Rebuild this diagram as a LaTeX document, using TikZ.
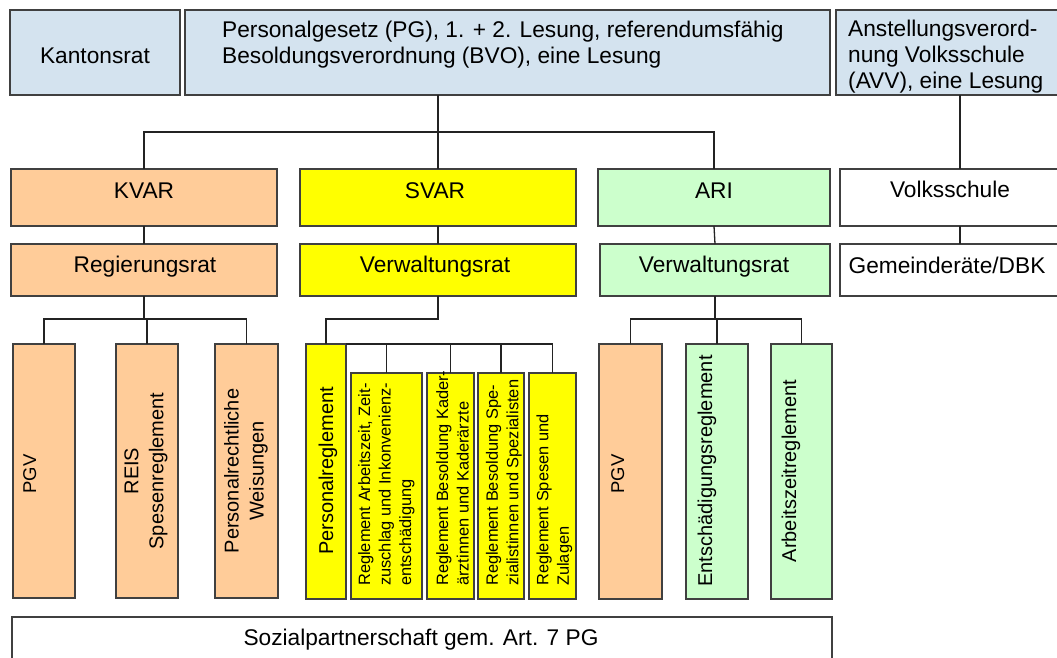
\documentclass[tikz,border=0pt]{standalone}
\usepackage{fontspec}
\setmainfont{Liberation Sans}
\definecolor{blueF}{RGB}{212,227,239}
\definecolor{peachF}{RGB}{255,204,153}
\definecolor{yellowF}{RGB}{255,255,0}
\definecolor{greenF}{RGB}{204,255,204}
\definecolor{boxline}{RGB}{64,64,64}
\definecolor{linkc}{RGB}{35,35,35}
\newcommand\mybox[6]{\node[box,fill=#6,minimum width={#4-#2},minimum height={#5-#3}] (#1) at ({(#2+#4)/2},{(#3+#5)/2}) {};}
\begin{document}
\begin{tikzpicture}[x=1pt,y=-1pt,
  box/.style={draw=boxline, line width=1.3pt, inner sep=0pt, outer sep=0pt},
  lnk/.style={draw=linkc, line width=1.3pt},
  big/.style={font=\fontsize{22.7}{26}\selectfont, inner sep=0pt, text=black},
  mid/.style={font=\fontsize{20}{25}\selectfont, inner sep=0pt, text=black},
  pgvt/.style={font=\fontsize{18.5}{22}\selectfont, inner sep=0pt, text=black},
  small/.style={font=\fontsize{16.4}{20.5}\selectfont, inner sep=0pt, text=black}]
\useasboundingbox (0,0) rectangle (1057,657);
\clip (0,0) rectangle (1057,657);
\fill[white] (0,0) rectangle (1057,657);
% boxes
\mybox{kr}{10}{10}{180}{95}{blueF}
\mybox{pg}{185}{10}{830}{95}{blueF}
\mybox{avv}{836}{10}{1084}{95}{blueF}
\mybox{kvar}{11}{169}{277}{226}{peachF}
\mybox{svar}{300}{169}{576}{226}{yellowF}
\mybox{ari}{598}{169}{830}{226}{greenF}
\mybox{vs}{840}{169}{1080}{226}{white}
\mybox{rr}{11}{244}{277}{296}{peachF}
\mybox{vw1}{300}{244}{576}{296}{yellowF}
\mybox{vw2}{600}{244}{830}{296}{greenF}
\mybox{gd}{840}{244}{1080}{296}{white}
\mybox{pgv1}{13}{344}{75}{598}{peachF}
\mybox{reis}{116}{344}{178}{598}{peachF}
\mybox{pw}{215}{344}{278}{598}{peachF}
\mybox{pr}{306}{344}{346}{599}{yellowF}
\mybox{az}{351}{373}{422}{599}{yellowF}
\mybox{ka}{427}{373}{474}{599}{yellowF}
\mybox{spz}{478}{373}{524}{599}{yellowF}
\mybox{spe}{529}{373}{576}{599}{yellowF}
\mybox{pgv2}{599}{344}{662}{599}{peachF}
\mybox{ent}{686}{344}{748}{599}{greenF}
\mybox{arb}{771}{344}{832}{599}{greenF}
\mybox{sp}{12}{617}{832}{690}{white}
% texts
\node[big,anchor=base] (krt) at (95,63) {Kantonsrat};
\node[big,anchor=base west] (pgt1) at (222,37) {Personalgesetz (PG), 1. + 2. Lesung, referendumsfähig};
\node[big,anchor=base west] (pgt2) at (222,63) {Besoldungsverordnung (BVO), eine Lesung};
\node[big,anchor=base west] (avvt1) at (848,36) {Anstellungsverord-};
\node[big,anchor=base west] (avvt2) at (848,62) {nung Volksschule};
\node[big,anchor=base west] (avvt3) at (848,88) {(AVV), eine Lesung};
\node[big,anchor=base] (kvart) at (144,198) {KVAR};
\node[big,anchor=base] (svart) at (435,198) {SVAR};
\node[big,anchor=base] (arit) at (714,198) {ARI};
\node[big,anchor=base] (vst) at (950,197) {Volksschule};
\node[big,anchor=base] (rrt) at (145,272) {Regierungsrat};
\node[big,anchor=base] (vw1t) at (435,272) {Verwaltungsrat};
\node[big,anchor=base] (vw2t) at (714,272) {Verwaltungsrat};
\node[big,anchor=base] (gdt) at (947,273) {Gemeinderäte/DBK};
\node[big,anchor=base] (spt) at (421,645) {Sozialpartnerschaft gem. Art. 7 PG};
% vertical texts
\node[pgvt,rotate=90,anchor=base] (pgv1t) at (36,474) {PGV};
\node[mid,rotate=90,align=center] (reist) at (146,471) {REIS\\Spesenreglement};
\node[mid,rotate=90,align=center] (pwt) at (246,471) {Personalrechtliche\\Weisungen};
\node[mid,rotate=90,anchor=base] (prt) at (333,471) {Personalreglement};
\node[small,rotate=90,align=left,anchor=west] (azt) at ([yshift=13pt]az.south) {Reglement Arbeitszeit, Zeit-\\zuschlag und Inkonvenienz-\\entschädigung};
\node[small,rotate=90,align=left,anchor=west] (kat) at ([yshift=13pt,xshift=2pt]ka.south) {Reglement Besoldung Kader-\\ärztinnen und Kaderärzte};
\node[small,rotate=90,align=left,anchor=west] (spzt) at ([yshift=13pt,xshift=3pt]spz.south) {Reglement Besoldung Spe-\\zialistinnen und Spezialisten};
\node[small,rotate=90,align=left,anchor=west] (spet) at ([yshift=13pt,xshift=2pt]spe.south) {Reglement Spesen und\\Zulagen};
\node[pgvt,rotate=90,anchor=base] (pgv2t) at (624,474) {PGV};
\node[mid,rotate=90,anchor=base] (entt) at (712,471) {Entschädigungsreglement};
\node[mid,rotate=90,anchor=base] (arbt) at (796,471) {Arbeitszeitreglement};
% connectors
\coordinate (b1) at (0,132);
\coordinate (b2) at (0,319);
\draw[lnk] (svar.north |- pg.south) -- (svar.north);
\draw[lnk] (kvar.north) -- (kvar.north |- b1) -- (ari.north |- b1) -- (ari.north);
\draw[lnk] (avv.south) -- (vs.north);
\draw[lnk] (kvar.south) -- (rr.north);
\draw[lnk] (svar.south) -- (vw1.north);
\draw[lnk] (ari.south) -- (vw2.north);
\draw[lnk] (vs.south) -- (gd.north);
\draw[lnk] (rr.south) -- (rr.south |- b2);
\draw[lnk] (pgv1.north) -- (pgv1.north |- b2) -- (pw.north |- b2) -- (pw.north);
\draw[lnk] (reis.north |- b2) -- (reis.north);
\draw[lnk] (vw1.south) -- (vw1.south |- b2) -- (pr.north |- b2) -- (pr.north);
\draw[lnk] (pr.north east) -- (spe.north |- pr.north) -- (spe.north);
\draw[lnk] (az.north |- pr.north) -- (az.north);
\draw[lnk] (ka.north |- pr.north) -- (ka.north);
\draw[lnk] (spz.north |- pr.north) -- (spz.north);
\draw[lnk] (vw2.south) -- (vw2.south |- b2);
\draw[lnk] (pgv2.north) -- (pgv2.north |- b2) -- (arb.north |- b2) -- (arb.north);
\draw[lnk] (ent.north |- b2) -- (ent.north);
\end{tikzpicture}
\end{document}
